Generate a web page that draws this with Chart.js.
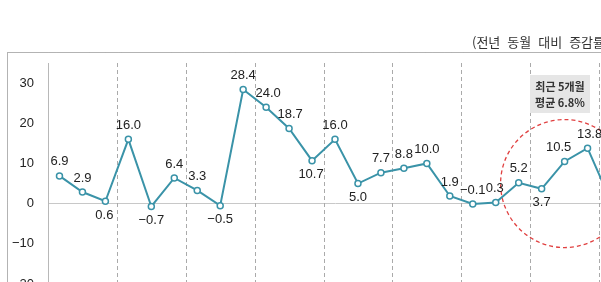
<!DOCTYPE html>
<html>
<head>
<meta charset="utf-8">
<script src="https://cdn.jsdelivr.net/npm/chart.js@4"></script>
<style>
  html, body { margin: 0; padding: 0; background: #fff; overflow: hidden; }
  #wrap { position: relative; width: 640px; height: 346px; }
</style>
</head>
<body>
<div id="wrap"><canvas id="theChart" width="640" height="346"></canvas></div>
<script>
'use strict';

// data (monthly, year-on-year change %)
const months = ['m1', 'm2', 'm3', 'm4', 'm5', 'm6', 'm7', 'm8', 'm9', 'm10', 'm11', 'm12',
  'm13', 'm14', 'm15', 'm16', 'm17', 'm18', 'm19', 'm20', 'm21', 'm22', 'm23', 'm24', 'm25'];
const changeRate = [6.9, 2.9, 0.6, 16.0, -0.7, 6.4, 3.3, -0.5, 28.4, 24.0, 18.7, 10.7, 16.0,
  5.0, 7.7, 8.8, 10.0, 1.9, -0.1, 0.3, 5.2, 3.7, 10.5, 13.8, 0.8];
const yTicks = [-30, -20, -10, 0, 10, 20, 30];
const unitNote = '(전년 동월 대비 증감률)';
const noteLines = ['최근 5개월', '평균 6.8%'];

// label placement: 'a' above, 'b' below, plus small x nudges
const labelSide = ['a', 'a', 'b', 'a', 'b', 'a', 'a', 'b', 'a', 'a', 'a', 'b', 'a',
  'b', 'a', 'a', 'a', 'a', 'a', 'a', 'a', 'b', 'a', 'a', 'b'];
const labelNudge = {2: -1, 9: 2, 10: 1, 11: -1, 19: -1, 22: -6, 23: 2};

const FONT = '"Liberation Sans", "Noto Sans CJK KR", sans-serif';
const KFONT = '"Noto Sans CJK KR", "Liberation Sans", sans-serif';

const extras = {
  id: 'extras',
  beforeDatasetsDraw(chart) {
    const ctx = chart.ctx;
    const area = chart.chartArea;
    const x = chart.scales.x;
    const y = chart.scales.y;
    ctx.save();

    // dotted frame
    ctx.strokeStyle = '#666';
    ctx.lineWidth = 1;
    ctx.setLineDash([1, 1]);
    ctx.strokeRect(7.5, 52.5, 800, 400);

    // quarter separators
    ctx.strokeStyle = '#aaa';
    ctx.setLineDash([4, 3]);
    for (let i = 2; i < months.length - 1; i += 3) {
      let px = Math.round((x.getPixelForValue(i) + x.getPixelForValue(i + 1)) / 2) + 0.5;
      ctx.beginPath();
      ctx.moveTo(px, area.top);
      ctx.lineTo(px, chart.height);
      ctx.stroke();
    }

    // note box
    ctx.setLineDash([]);
    ctx.fillStyle = '#e6e6e6';
    ctx.fillRect(530, 75, 60, 38);
    ctx.fillStyle = '#333';
    ctx.font = 'bold 11px ' + KFONT;
    ctx.textAlign = 'center';
    ctx.textBaseline = 'middle';
    ctx.fillText(noteLines[0], 560, 87);
    ctx.fillText(noteLines[1], 560, 103);

    // unit note, words spread out like the original
    ctx.font = '13px ' + KFONT;
    ctx.textAlign = 'left';
    ctx.fillStyle = '#333';
    let wx = 472;
    unitNote.split(' ').forEach(w => {
      ctx.fillText(w, wx, 42);
      wx += ctx.measureText(w).width + 7;
    });

    // red dashed circle around the last 5 months
    ctx.strokeStyle = '#e04040';
    ctx.lineWidth = 1.3;
    ctx.setLineDash([4, 3]);
    ctx.beginPath();
    ctx.arc(x.getPixelForValue(22), y.getPixelForValue(5), 64, 0, Math.PI * 2);
    ctx.stroke();
    ctx.restore();
  },
  afterDatasetsDraw(chart) {
    const ctx = chart.ctx;
    const meta = chart.getDatasetMeta(0);
    ctx.save();
    ctx.font = '13px ' + FONT;
    ctx.fillStyle = '#222';
    ctx.textAlign = 'center';
    ctx.textBaseline = 'middle';
    meta.data.forEach((pt, i) => {
      let dy = labelSide[i] === 'a' ? -14 : 14;
      let dx = labelNudge[i] || 0;
      ctx.fillText(changeRate[i].toFixed(1).replace('-', '\u2212'), pt.x + dx, pt.y + dy);
    });
    ctx.restore();
  }
};

const config = {
  type: 'line',
  data: {
    labels: months,
    datasets: [{
      data: changeRate,
      borderColor: '#3a93a8',
      borderWidth: 2,
      pointRadius: 3,
      pointBorderWidth: 1.5,
      pointBackgroundColor: '#fff',
      pointBorderColor: '#3a93a8',
      tension: 0
    }]
  },
  options: {
    responsive: false,
    animation: false,
    layout: { padding: { top: 63, bottom: 7, left: 0, right: 18 } },
    plugins: { legend: { display: false }, tooltip: { enabled: false } },
    scales: {
      x: {
        display: false,
        offset: true
      },
      y: {
        min: -30,
        max: 35,
        afterFit: s => { s.width = 48; },
        afterBuildTicks: s => { s.ticks = yTicks.map(v => ({ value: v })); },
        ticks: {
          padding: 14,
          color: '#222',
          font: { size: 13, family: FONT },
          callback: v => String(v).replace('-', '\u2212')
        },
        grid: {
          drawTicks: false,
          tickLength: 0,
          color: c => (c.tick && c.tick.value === 0 ? '#c8c8c8' : 'rgba(0,0,0,0)')
        },
        border: { display: true, color: '#b8b8b8', width: 1 }
      }
    }
  },
  plugins: [extras]
};

new Chart(document.getElementById('theChart'), config);
</script>
</body>
</html>
